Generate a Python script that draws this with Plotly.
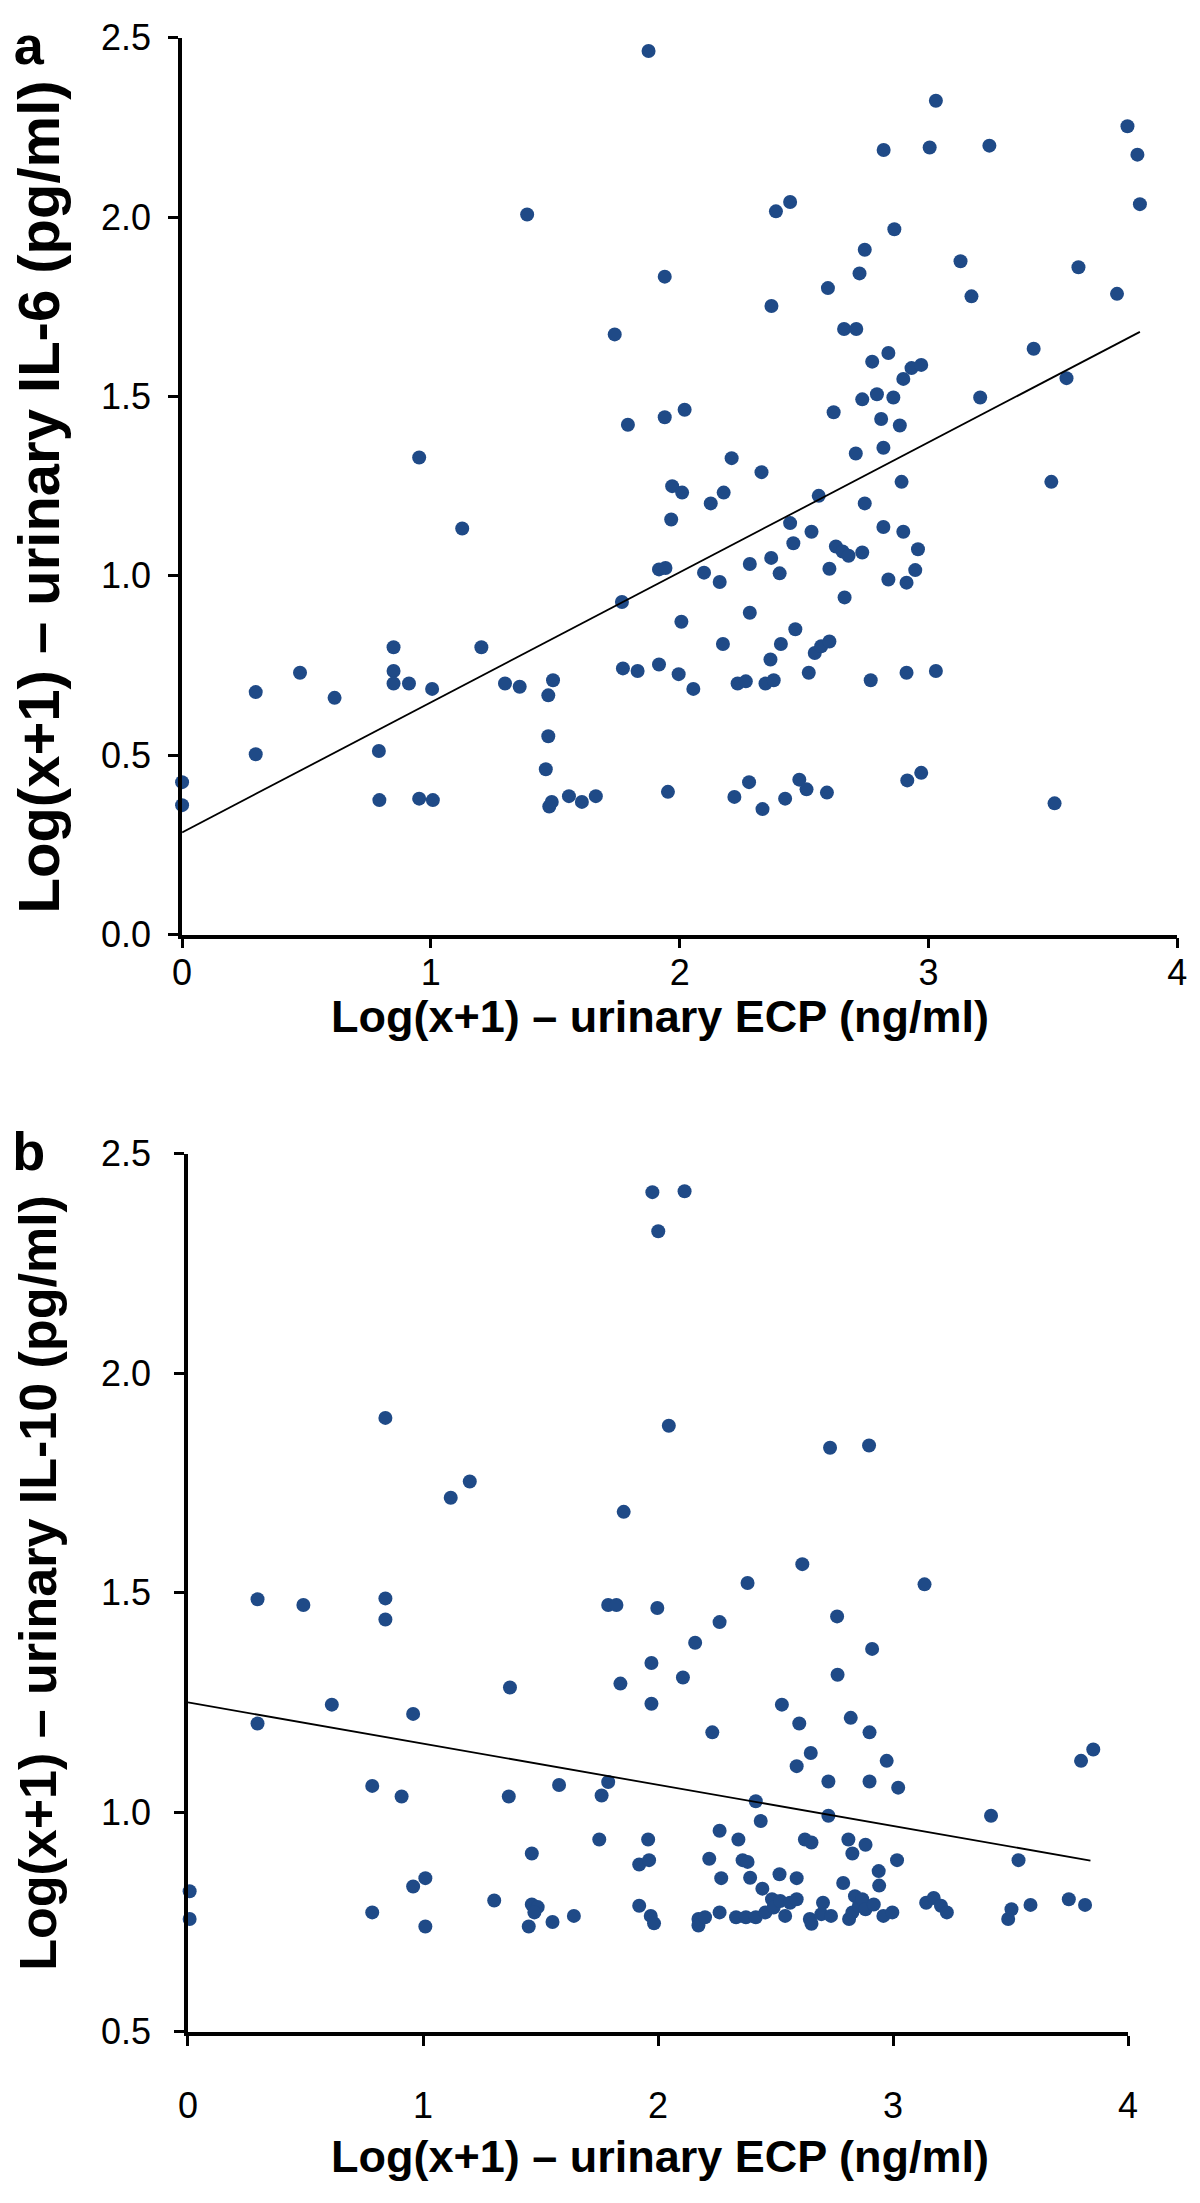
import plotly.graph_objects as go

W, H = 1200, 2203

# ---------------- data ----------------
ecp_a = [0.0, 0.0, 0.296, 0.296, 0.474, 0.613, 0.791, 0.793, 0.85, 0.85,
         0.85, 0.912, 0.953, 0.953, 1.005, 1.008, 1.126, 1.203, 1.298, 1.357,
         1.387, 1.472, 1.491, 1.472, 1.462, 1.476, 1.486, 1.555, 1.607, 1.663,
         1.739, 1.768, 1.772, 1.792, 1.831, 1.875, 1.917, 1.917, 1.943, 1.94,
         1.94, 1.953, 1.966, 1.97, 1.996, 2.007, 2.01, 2.02, 2.055, 2.098,
         2.125, 2.161, 2.174, 2.177, 2.209, 2.22, 2.233, 2.266, 2.279, 2.282,
         2.282, 2.329, 2.333, 2.345, 2.365, 2.368, 2.369, 2.378, 2.387, 2.402,
         2.407, 2.424, 2.444, 2.444, 2.457, 2.465, 2.481, 2.51, 2.519, 2.53,
         2.543, 2.559, 2.569, 2.592, 2.596, 2.602, 2.602, 2.619, 2.628, 2.655,
         2.661, 2.663, 2.679, 2.708, 2.71, 2.723, 2.734, 2.734, 2.744, 2.744,
         2.768, 2.774, 2.793, 2.81, 2.819, 2.819, 2.82, 2.839, 2.839, 2.859,
         2.863, 2.885, 2.892, 2.899, 2.899, 2.912, 2.912, 2.915, 2.932, 2.947,
         2.958, 2.971, 2.971, 3.005, 3.03, 3.03, 3.129, 3.173, 3.208, 3.245,
         3.423, 3.494, 3.507, 3.555, 3.603, 3.758, 3.8, 3.84, 3.85]
il6 = [0.425, 0.361, 0.676, 0.503, 0.73, 0.66, 0.512, 0.375, 0.801, 0.735,
       0.7, 0.7, 1.33, 0.379, 0.685, 0.375, 1.132, 0.801, 0.7, 0.691,
       2.007, 0.667, 0.709, 0.553, 0.461, 0.357, 0.37, 0.386, 0.37, 0.386,
       1.673, 0.927, 0.742, 1.421, 0.735, 2.463, 0.753, 1.018, 1.022, 1.834,
       1.442, 0.398, 1.157, 1.25, 0.726, 0.872, 1.232, 1.463, 0.685, 1.009,
       1.202, 0.983, 0.81, 1.232, 1.328, 0.384, 0.7, 0.706, 0.425, 1.033,
       0.897, 1.289, 0.35, 0.7, 0.767, 1.05, 1.752, 0.709, 2.016, 1.007,
       0.81, 0.379, 2.042, 1.147, 1.091, 0.851, 0.432, 0.405, 0.73, 1.123,
       0.785, 1.223, 0.804, 0.396, 1.802, 1.02, 0.817, 1.456, 1.082, 1.068,
       1.688, 0.94, 1.056, 1.341, 1.688, 1.843, 1.492, 1.065, 1.909, 1.202,
       0.709, 1.597, 1.506, 1.437, 1.357, 1.136, 2.187, 1.621, 0.99, 1.497,
       1.966, 1.419, 1.262, 1.549, 1.123, 0.981, 0.73, 0.43, 1.579, 1.016,
       1.074, 1.588, 0.451, 2.194, 2.324, 0.735, 1.877, 1.779, 1.497, 2.199,
       1.633, 1.262, 0.366, 1.551, 1.86, 1.786, 2.253, 2.174, 2.036]

ecp_b = [0.007, 0.007, 0.296, 0.296, 0.491, 0.612, 0.784, 0.784, 0.84, 0.84,
         0.84, 0.909, 0.958, 0.958, 1.01, 1.01, 1.118, 1.199, 1.303, 1.365,
         1.37, 1.45, 1.463, 1.463, 1.488, 1.474, 1.551, 1.579, 1.642, 1.75,
         1.76, 1.788, 1.788, 1.823, 1.84, 1.854, 1.92, 1.92, 1.958, 1.962,
         1.969, 1.972, 1.972, 1.976, 1.983, 1.997, 2.001, 2.046, 2.106, 2.113,
         2.158, 2.172, 2.172, 2.2, 2.218, 2.231, 2.262, 2.262, 2.262, 2.269,
         2.332, 2.342, 2.36, 2.374, 2.381, 2.381, 2.392, 2.416, 2.416, 2.437,
         2.444, 2.457, 2.485, 2.492, 2.517, 2.52, 2.527, 2.541, 2.562, 2.59,
         2.59, 2.59, 2.601, 2.614, 2.625, 2.646, 2.65, 2.653, 2.653, 2.695,
         2.702, 2.725, 2.725, 2.732, 2.736, 2.762, 2.764, 2.788, 2.81, 2.813,
         2.82, 2.827, 2.827, 2.838, 2.855, 2.869, 2.883, 2.883, 2.898, 2.9,
         2.9, 2.911, 2.918, 2.939, 2.941, 2.959, 2.973, 2.997, 3.017, 3.022,
         3.134, 3.141, 3.173, 3.204, 3.229, 3.417, 3.49, 3.504, 3.534, 3.585,
         3.748, 3.8, 3.817, 3.852]
il10 = [0.82, 0.757, 1.485, 1.202, 1.472, 1.245, 1.06, 0.772, 1.898, 1.487,
        1.439, 1.036, 1.224, 0.831, 0.85, 0.74, 1.716, 1.753, 0.799, 1.036,
        1.284, 0.74, 0.906, 0.79, 0.784, 0.772, 0.75, 1.062, 0.764, 0.938,
        1.038, 1.069, 1.472, 1.472, 1.293, 1.684, 0.881, 0.787, 0.938, 0.891,
        0.764, 1.34, 1.247, 2.412, 0.747, 1.465, 2.323, 1.88, 1.307, 2.414,
        1.386, 0.757, 0.742, 0.761, 0.894, 1.182, 1.433, 0.958, 0.772, 0.85,
        0.761, 0.938, 0.891, 0.761, 0.887, 1.522, 0.851, 1.025, 0.761, 0.98,
        0.826, 0.772, 0.802, 0.783, 0.859, 0.798, 1.245, 0.764, 0.794, 1.105,
        0.85, 0.802, 1.202, 1.565, 0.938, 0.757, 1.135, 0.931, 0.746, 0.768,
        0.794, 1.07, 0.992, 1.83, 0.764, 1.446, 1.313, 0.839, 0.938, 0.757,
        1.215, 0.906, 0.772, 0.809, 0.787, 0.802, 0.926, 0.779, 1.835, 1.182,
        1.07, 1.372, 0.79, 0.866, 0.833, 0.764, 1.117, 0.772, 0.891, 1.056,
        1.519, 0.794, 0.805, 0.787, 0.772, 0.992, 0.757, 0.779, 0.891, 0.789,
        0.802, 1.117, 0.789, 1.143]

fit_a_x = [0.0, 3.85]
fit_a_y = [0.285, 1.68]
fit_b_x = [0.0, 3.84]
fit_b_y = [1.25, 0.89]

x_ticks = [0, 1, 2, 3, 4]
x_ticktext = ["0", "1", "2", "3", "4"]
ya_ticks = [0.0, 0.5, 1.0, 1.5, 2.0, 2.5]
ya_ticktext = ["0.0", "0.5", "1.0", "1.5", "2.0", "2.5"]
yb_ticks = [0.5, 1.0, 1.5, 2.0, 2.5]
yb_ticktext = ["0.5", "1.0", "1.5", "2.0", "2.5"]

x_title = "Log(x+1) – urinary ECP (ng/ml)"
ya_title = "Log(x+1) – urinary IL-6 (pg/ml)"
yb_title = "Log(x+1) – urinary IL-10 (pg/ml)"
panel_letters = ["a", "b"]

# ---------------- style ----------------
BLUE = "#1F4A87"
FONT = "Liberation Sans, Arial, sans-serif"


def px_x(p):
    return p / W


def px_y(p):
    return 1 - p / H


fig = go.Figure()
fig.add_trace(go.Scatter(x=ecp_a, y=il6, mode="markers", xaxis="x", yaxis="y",
                         marker=dict(size=14, color=BLUE), cliponaxis=False,
                         hoverinfo="skip"))
fig.add_trace(go.Scatter(x=fit_a_x, y=fit_a_y, mode="lines", xaxis="x", yaxis="y",
                         line=dict(color="black", width=1.8), hoverinfo="skip"))
fig.add_trace(go.Scatter(x=ecp_b, y=il10, mode="markers", xaxis="x2", yaxis="y2",
                         marker=dict(size=14, color=BLUE), cliponaxis=False,
                         hoverinfo="skip"))
fig.add_trace(go.Scatter(x=fit_b_x, y=fit_b_y, mode="lines", xaxis="x2", yaxis="y2",
                         line=dict(color="black", width=1.8), hoverinfo="skip"))

# panel letters, on a hidden full-page overlay axis measured in pixels (layout positions)
letter_pos_x = [19, 19]
letter_pos_y = [31, 1158]
fig.add_trace(go.Scatter(x=letter_pos_x, y=letter_pos_y, mode="text",
                         text=["<b>" + t + "</b>" for t in panel_letters],
                         textposition="middle center",
                         textfont=dict(family=FONT, size=54, color="black"),
                         xaxis="x3", yaxis="y3", cliponaxis=False, hoverinfo="skip"))

axis_common = dict(showline=True, linecolor="black", linewidth=3.5, ticks="outside",
                   ticklen=10, tickwidth=3, tickcolor="black", showgrid=False,
                   zeroline=False, tickfont=dict(family=FONT, size=36, color="black"))

fig.update_layout(
    width=W, height=H,
    margin=dict(l=0, r=0, t=0, b=0),
    paper_bgcolor="white", plot_bgcolor="rgba(0,0,0,0)",
    showlegend=False,
    xaxis=dict(domain=[px_x(175), px_x(1187)], range=[0, 4], anchor="y",
               tickvals=x_ticks, ticktext=x_ticktext, ticklabelstandoff=-7, **axis_common),
    yaxis=dict(domain=[px_y(932), px_y(18)], range=[0, 2.5], anchor="x",
               tickvals=ya_ticks, ticktext=ya_ticktext, ticklabelstandoff=10, **axis_common),
    xaxis2=dict(domain=[px_x(181), px_x(1137)], range=[0, 4], anchor="y2",
                tickvals=x_ticks, ticktext=x_ticktext, ticklabelstandoff=29, **axis_common),
    yaxis2=dict(domain=[px_y(2050), px_y(1155)], range=[0.5, 2.5], anchor="x2",
                tickvals=yb_ticks, ticktext=yb_ticktext, ticklabelstandoff=16, **axis_common),
    xaxis3=dict(domain=[0, 1], range=[0, W], visible=False, anchor="y3", fixedrange=True),
    yaxis3=dict(domain=[0, 1], range=[H, 0], visible=False, anchor="x3", fixedrange=True),
)

ann_font = dict(family=FONT, color="black")
annotations = [
    dict(text="<b>" + x_title + "</b>", x=px_x(661), y=px_y(1015), font=dict(size=45, **ann_font)),
    dict(text="<b>" + x_title + "</b>", x=px_x(661), y=px_y(2177), font=dict(size=45, **ann_font)),
    dict(text="<b>" + ya_title + "</b>", x=px_x(29), y=px_y(486), textangle=-90,
         font=dict(size=58, **ann_font)),
    dict(text="<b>" + yb_title + "</b>", x=px_x(29), y=px_y(1593), textangle=-90,
         font=dict(size=52, **ann_font)),
]
for a in annotations:
    a.update(xref="paper", yref="paper", showarrow=False, xanchor="center", yanchor="middle")
fig.update_layout(annotations=annotations)

fig.write_html("out.html", config={"displayModeBar": False},
               post_script="document.body.style.margin='0';document.body.style.overflow='hidden';")
